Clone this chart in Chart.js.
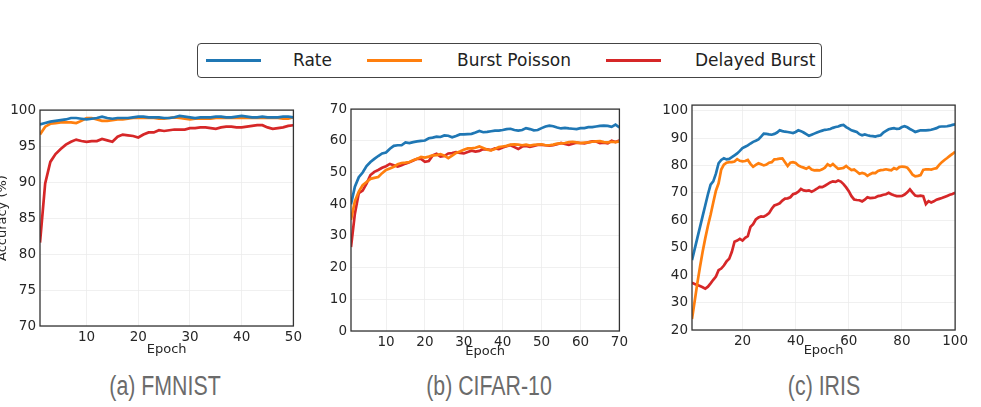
<!DOCTYPE html>
<html>
<head>
<meta charset="utf-8">
<script src="https://cdn.jsdelivr.net/npm/chart.js@4.4.1/dist/chart.umd.min.js"></script>
<style>
    body { margin: 0; width: 981px; height: 407px; background: #fff; position: relative; overflow: hidden; font-family: "DejaVu Sans", sans-serif; }
    .grafico { position: absolute; }
    .legenda { position: absolute; left: 197px; top: 43px; width: 623px; height: 33px; border: 1.3px solid #444; border-radius: 4px; }
    .traco { position: absolute; top: 15px; height: 3px; width: 55px; }
    .nome { position: absolute; top: 6px; font-size: 17px; color: #222; white-space: nowrap; }
    .legenda-fig { position: absolute; top: 371px; font-family: "Liberation Sans", sans-serif; font-size: 27px; color: #6b6b6b; transform: translateX(-50%) scaleX(0.79); white-space: nowrap; }
</style>
</head>
<body>

<div class="legenda">
    <div class="traco" style="left: 8px; background: #1f77b4;"></div>
    <div class="nome" style="left: 95px;">Rate</div>
    <div class="traco" style="left: 169px; background: #ff7f0e;"></div>
    <div class="nome" style="left: 259px;">Burst Poisson</div>
    <div class="traco" style="left: 408px; background: #d62728;"></div>
    <div class="nome" style="left: 497px;">Delayed Burst</div>
</div>

<div class="grafico" style="left: -9px; top: 98px; width: 314px; height: 262px;"><canvas id="grafico_fmnist"></canvas></div>
<div class="grafico" style="left: 316px; top: 97px; width: 315px; height: 263px;"><canvas id="grafico_cifar"></canvas></div>
<div class="grafico" style="left: 655px; top: 93px; width: 316px; height: 267px;"><canvas id="grafico_iris"></canvas></div>

<div class="legenda-fig" style="left: 165px;">(a) FMNIST</div>
<div class="legenda-fig" style="left: 489px;">(b) CIFAR-10</div>
<div class="legenda-fig" style="left: 824px;">(c) IRIS</div>

<script>
// nomes das series
const nomesSeries = ['Rate', 'Burst Poisson', 'Delayed Burst']
const coresSeries = ['#1f77b4', '#ff7f0e', '#d62728']

// (a) FMNIST - 50 epocas
const fmnistRate = [98.0, 98.2, 98.4, 98.5, 98.6, 98.7, 98.9, 98.9, 98.8, 98.7,
    98.8, 98.9, 99.1, 98.9, 98.8, 98.9, 98.9, 98.9, 99.0, 99.1,
    99.1, 99.0, 99.0, 99.0, 98.9, 98.9, 99.0, 99.2, 99.1, 99.0,
    98.9, 99.0, 99.0, 99.0, 99.1, 99.1, 99.0, 99.0, 99.1, 99.2,
    99.1, 99.0, 99.0, 99.1, 99.0, 99.0, 99.0, 99.1, 99.1, 99.0]
const fmnistBurst = [96.6, 97.7, 98.1, 98.2, 98.3, 98.3, 98.3, 98.2, 98.5, 98.9,
    98.9, 98.7, 98.5, 98.5, 98.6, 98.7, 98.7, 98.8, 98.9, 98.9,
    98.9, 98.9, 98.9, 98.8, 98.8, 98.9, 99.0, 98.9, 98.8, 98.7,
    98.8, 98.8, 98.8, 98.8, 98.9, 98.9, 98.9, 98.9, 98.9, 98.9,
    98.9, 98.9, 98.9, 98.9, 98.9, 98.9, 98.9, 98.8, 98.8, 99.0]
const fmnistDelayed = [81.6, 89.8, 92.8, 93.9, 94.6, 95.2, 95.6, 95.9, 95.7, 95.6,
    95.7, 95.7, 96.0, 95.8, 95.6, 96.3, 96.6, 96.5, 96.4, 96.2,
    96.6, 96.9, 96.9, 97.2, 97.1, 97.2, 97.3, 97.3, 97.3, 97.5,
    97.5, 97.6, 97.6, 97.5, 97.4, 97.6, 97.7, 97.7, 97.6, 97.6,
    97.7, 97.8, 97.9, 97.9, 97.6, 97.4, 97.5, 97.6, 97.8, 97.9]

// (b) CIFAR-10 - 70 epocas
const cifarRate = [40, 45.5, 48.5, 50, 52, 53.3, 54.3, 55.2, 56, 56.3,
    57.5, 58.4, 58.6, 58.6, 59.5, 59.3, 59.6, 59.8, 60, 60.1,
    60.8, 61.0, 61.3, 61.2, 61.7, 61.6, 61.1, 61.5, 62, 62,
    62.1, 62.2, 62.6, 63.1, 62.7, 62.8, 63, 63.2, 63.2, 63.4,
    63.7, 63.8, 63.4, 63.2, 63.4, 64, 63.7, 63.3, 63.4, 64,
    64.5, 64.8, 64.6, 64.2, 63.9, 64.1, 63.9, 63.8, 63.7, 64,
    64, 64.3, 64.3, 64.5, 64.7, 64.8, 64.7, 64.4, 65.1, 64.2]
const cifarBurst = [35, 41, 44, 46, 47, 48, 48.3, 48.6, 49.8, 50.8,
    51.3, 51.8, 52.6, 53, 53.1, 53.3, 53.9, 54.3, 54.9, 54.7,
    55, 55.4, 55.5, 55.8, 55.3, 54.5, 55.3, 56.2, 56.6, 57.2,
    57.6, 57.6, 57.8, 58.2, 57.7, 57.2, 57, 57.4, 58, 58.2,
    58.4, 58.8, 58.9, 58.8, 58.6, 58.8, 58.5, 58.7, 58.8, 58.9,
    58.6, 58.6, 58.8, 59.1, 59.2, 59.3, 59.6, 59.7, 59.5, 59.3,
    59.4, 59.5, 59.7, 59.8, 59.9, 59.6, 59.5, 59.7, 59.6, 59.8]
const cifarDelayed = [26.5, 37, 43.5, 44.3, 46.5, 49.2, 50.2, 50.8, 51.5, 52,
    52.7, 52.3, 51.9, 52.3, 52.8, 53.2, 53.8, 54.3, 54.3, 53.4,
    53.6, 55.4, 55.9, 55, 55.2, 56, 56.1, 56.4, 56.2, 56,
    56.5, 56.9, 56.6, 56.8, 57.4, 57.3, 57.1, 57.6, 57.4, 57.9,
    58.3, 58.6, 58, 57.4, 58.2, 58.4, 58.1, 58.4, 58.7, 58.7,
    58.6, 58.5, 58.6, 58.9, 59.3, 59, 58.7, 59.1, 59.4, 59.3,
    59.2, 59.5, 59.8, 59.8, 59.3, 59.4, 59.2, 60, 59.6, 60.1]

// (c) IRIS - 100 epocas
const irisRate = [45.5, 49.5, 53.5, 57.5, 61.5, 65.5, 69.5, 73, 74.2, 77,
    80.8, 82, 82.6, 82.2, 82.4, 83, 83.7, 84.4, 85.3, 86.3,
    86.8, 87.3, 88, 88.6, 89, 89.5, 90.5, 91.6, 91.5, 91.3,
    91.2, 91.5, 92, 92.8, 92.5, 92.3, 92.2, 92, 91.8, 92.2,
    92.8, 92.5, 92, 91.4, 90.8, 91.2, 91.6, 92, 92.4, 92.7,
    93, 93.1, 93.3, 93.7, 94, 94.2, 94.6, 94.8, 94, 93.4,
    92.8, 92.5, 92.2, 91.4, 91, 91.3, 91, 90.8, 90.7, 90.5,
    90.8, 91, 92, 92.6, 93.2, 93.4, 93.6, 93.3, 93.4, 94,
    94.3, 93.9, 93.3, 92.8, 92.2, 92.5, 92.8, 92.8, 92.8, 92.9,
    93, 93.3, 93.6, 94.1, 94.2, 94.2, 94.3, 94.5, 94.8, 95]
const irisBurst = [24, 30.5, 37, 43, 48.5, 53.5, 58, 62, 66.5, 70.8,
    73.5, 78.5, 80.3, 81, 81.2, 81.2, 81.4, 82.3, 81.7, 81.5,
    81.6, 82, 80.6, 79.5, 80.2, 80.8, 80.4, 80, 80.3, 81,
    81.2, 82.2, 82.3, 82.5, 82.6, 81.2, 79.8, 81, 81.2, 80.9,
    80, 79.5, 79.2, 78.8, 79.4, 78.5, 78.2, 78.3, 78.2, 78.6,
    79.2, 80.4, 79.8, 80.5, 79.6, 78.8, 78.9, 79.1, 79.8, 79,
    78.3, 78.5, 77.8, 77, 77.3, 77, 76.2, 76.8, 77.3, 77.2,
    78, 78.3, 78.4, 78.6, 78.4, 78.2, 79, 78.6, 79.4, 79.6,
    79.5, 79.2, 78, 76.6, 76, 76.2, 76.5, 78.4, 78.6, 78.6,
    78.5, 78.8, 79, 80.2, 81.2, 82, 82.7, 83.5, 84.2, 85]
const irisDelayed = [37.2, 36.8, 36.4, 36, 35.6, 35.1, 35.8, 37, 38.3, 39.5,
    41.8, 42.4, 43.5, 45, 46, 48.5, 52.2, 52.6, 53.2, 52.6,
    53.6, 54.2, 57.6, 58.6, 60.3, 61, 61.4, 61.3, 61.9, 62.6,
    64.2, 65.4, 65.8, 66.2, 67.2, 67.9, 68, 68.4, 69.5, 69.8,
    70.4, 71.4, 70.9, 70.7, 70.9, 70.4, 70.9, 71.5, 72.2, 72.1,
    72.6, 73.2, 73.8, 74.2, 74, 74.5, 74.1, 73.2, 72, 70.6,
    68.8, 67.6, 67.4, 67.3, 66.9, 67.5, 68.4, 68.1, 68.2, 68.3,
    68.8, 69, 69.3, 69.5, 70, 69.5, 69.1, 68.8, 68.8, 68.9,
    69.4, 70.2, 71.3, 70.1, 69, 68.8, 69, 68.8, 65.9, 67,
    66.5, 66.9, 67.5, 67.8, 68.1, 68.5, 68.9, 69.3, 69.6, 70]

// ticks dos eixos
const ticksXFmnist = [10, 20, 30, 40, 50]
const ticksYFmnist = [70, 75, 80, 85, 90, 95, 100]
const ticksXCifar = [10, 20, 30, 40, 50, 60, 70]
const ticksYCifar = [0, 10, 20, 30, 40, 50, 60, 70]
const ticksXIris = [20, 40, 60, 80, 100]
const ticksYIris = [20, 30, 40, 50, 60, 70, 80, 90, 100]

// moldura preta em volta da area do grafico
const moldura = {
    id: 'moldura',
    afterDatasetsDraw(chart) {
        const a = chart.chartArea
        const ctx = chart.ctx
        ctx.save()
        ctx.strokeStyle = '#333'
        ctx.lineWidth = 1.3
        ctx.strokeRect(a.left, a.top, a.right - a.left, a.bottom - a.top)
        ctx.restore()
    }
}

const fonteTick = { family: 'DejaVu Sans', size: 13.5 }
const fonteTitulo = { family: 'DejaVu Sans', size: 13 }

function criarGrafico(idCanvas, series, cfg) {
    const datasets = series.map((valores, i) => ({
        label: nomesSeries[i],
        data: valores.map((v, j) => ({ x: j + 1, y: v })),
        borderColor: coresSeries[i],
        backgroundColor: coresSeries[i],
        borderWidth: 2.7,
        pointRadius: 0,
        tension: 0,
        fill: false
    }))

    const ctx = document.getElementById(idCanvas).getContext('2d')
    return new Chart(ctx, {
        type: 'line',
        data: { datasets: datasets },
        plugins: [moldura],
        options: {
            responsive: true,
            maintainAspectRatio: false,
            animation: false,
            layout: { padding: { top: 10, right: cfg.padDireita, left: 0, bottom: 0 } },
            plugins: { legend: { display: false }, tooltip: { enabled: false } },
            scales: {
                x: {
                    type: 'linear',
                    min: 1,
                    max: cfg.xMax,
                    afterBuildTicks: s => { s.ticks = cfg.ticksX.map(v => ({ value: v })) },
                    afterFit: s => { s.height = cfg.alturaX },
                    grid: { color: '#ececec', lineWidth: 0.8, drawTicks: false },
                    border: { display: false },
                    ticks: { font: fonteTick, color: '#262626', padding: 3, maxRotation: 0 },
                    title: { display: true, text: 'Epoch', font: fonteTitulo, color: '#262626', padding: { top: 0, bottom: cfg.padTitulo } }
                },
                y: {
                    min: cfg.yMin,
                    max: cfg.yMax,
                    afterBuildTicks: s => { s.ticks = cfg.ticksY.map(v => ({ value: v })) },
                    afterFit: s => { s.width = cfg.larguraY },
                    grid: { color: '#ececec', lineWidth: 0.8, drawTicks: false },
                    border: { display: false },
                    ticks: { font: fonteTick, color: '#262626', padding: 4 },
                    title: { display: cfg.tituloY, text: 'Accuracy (%)', font: fonteTitulo, color: '#262626', padding: { top: 4, bottom: 0 } }
                }
            }
        }
    })
}

window.addEventListener('load', function () {
    criarGrafico('grafico_fmnist', [fmnistRate, fmnistBurst, fmnistDelayed], {
        xMax: 50, yMin: 70, yMax: 100, ticksX: ticksXFmnist, ticksY: ticksYFmnist,
        larguraY: 49, alturaX: 34, padDireita: 8, padTitulo: 3, tituloY: true
    })
    criarGrafico('grafico_cifar', [cifarRate, cifarBurst, cifarDelayed], {
        xMax: 70, yMin: 0, yMax: 70, ticksX: ticksXCifar, ticksY: ticksYCifar,
        larguraY: 35, alturaX: 29, padDireita: 8, padTitulo: 1, tituloY: false
    })
    criarGrafico('grafico_iris', [irisRate, irisBurst, irisDelayed], {
        xMax: 100, yMin: 20, yMax: 102, ticksX: ticksXIris, ticksY: ticksYIris,
        larguraY: 37, alturaX: 30, padDireita: 10, padTitulo: 2, tituloY: false
    })
})
</script>
</body>
</html>
